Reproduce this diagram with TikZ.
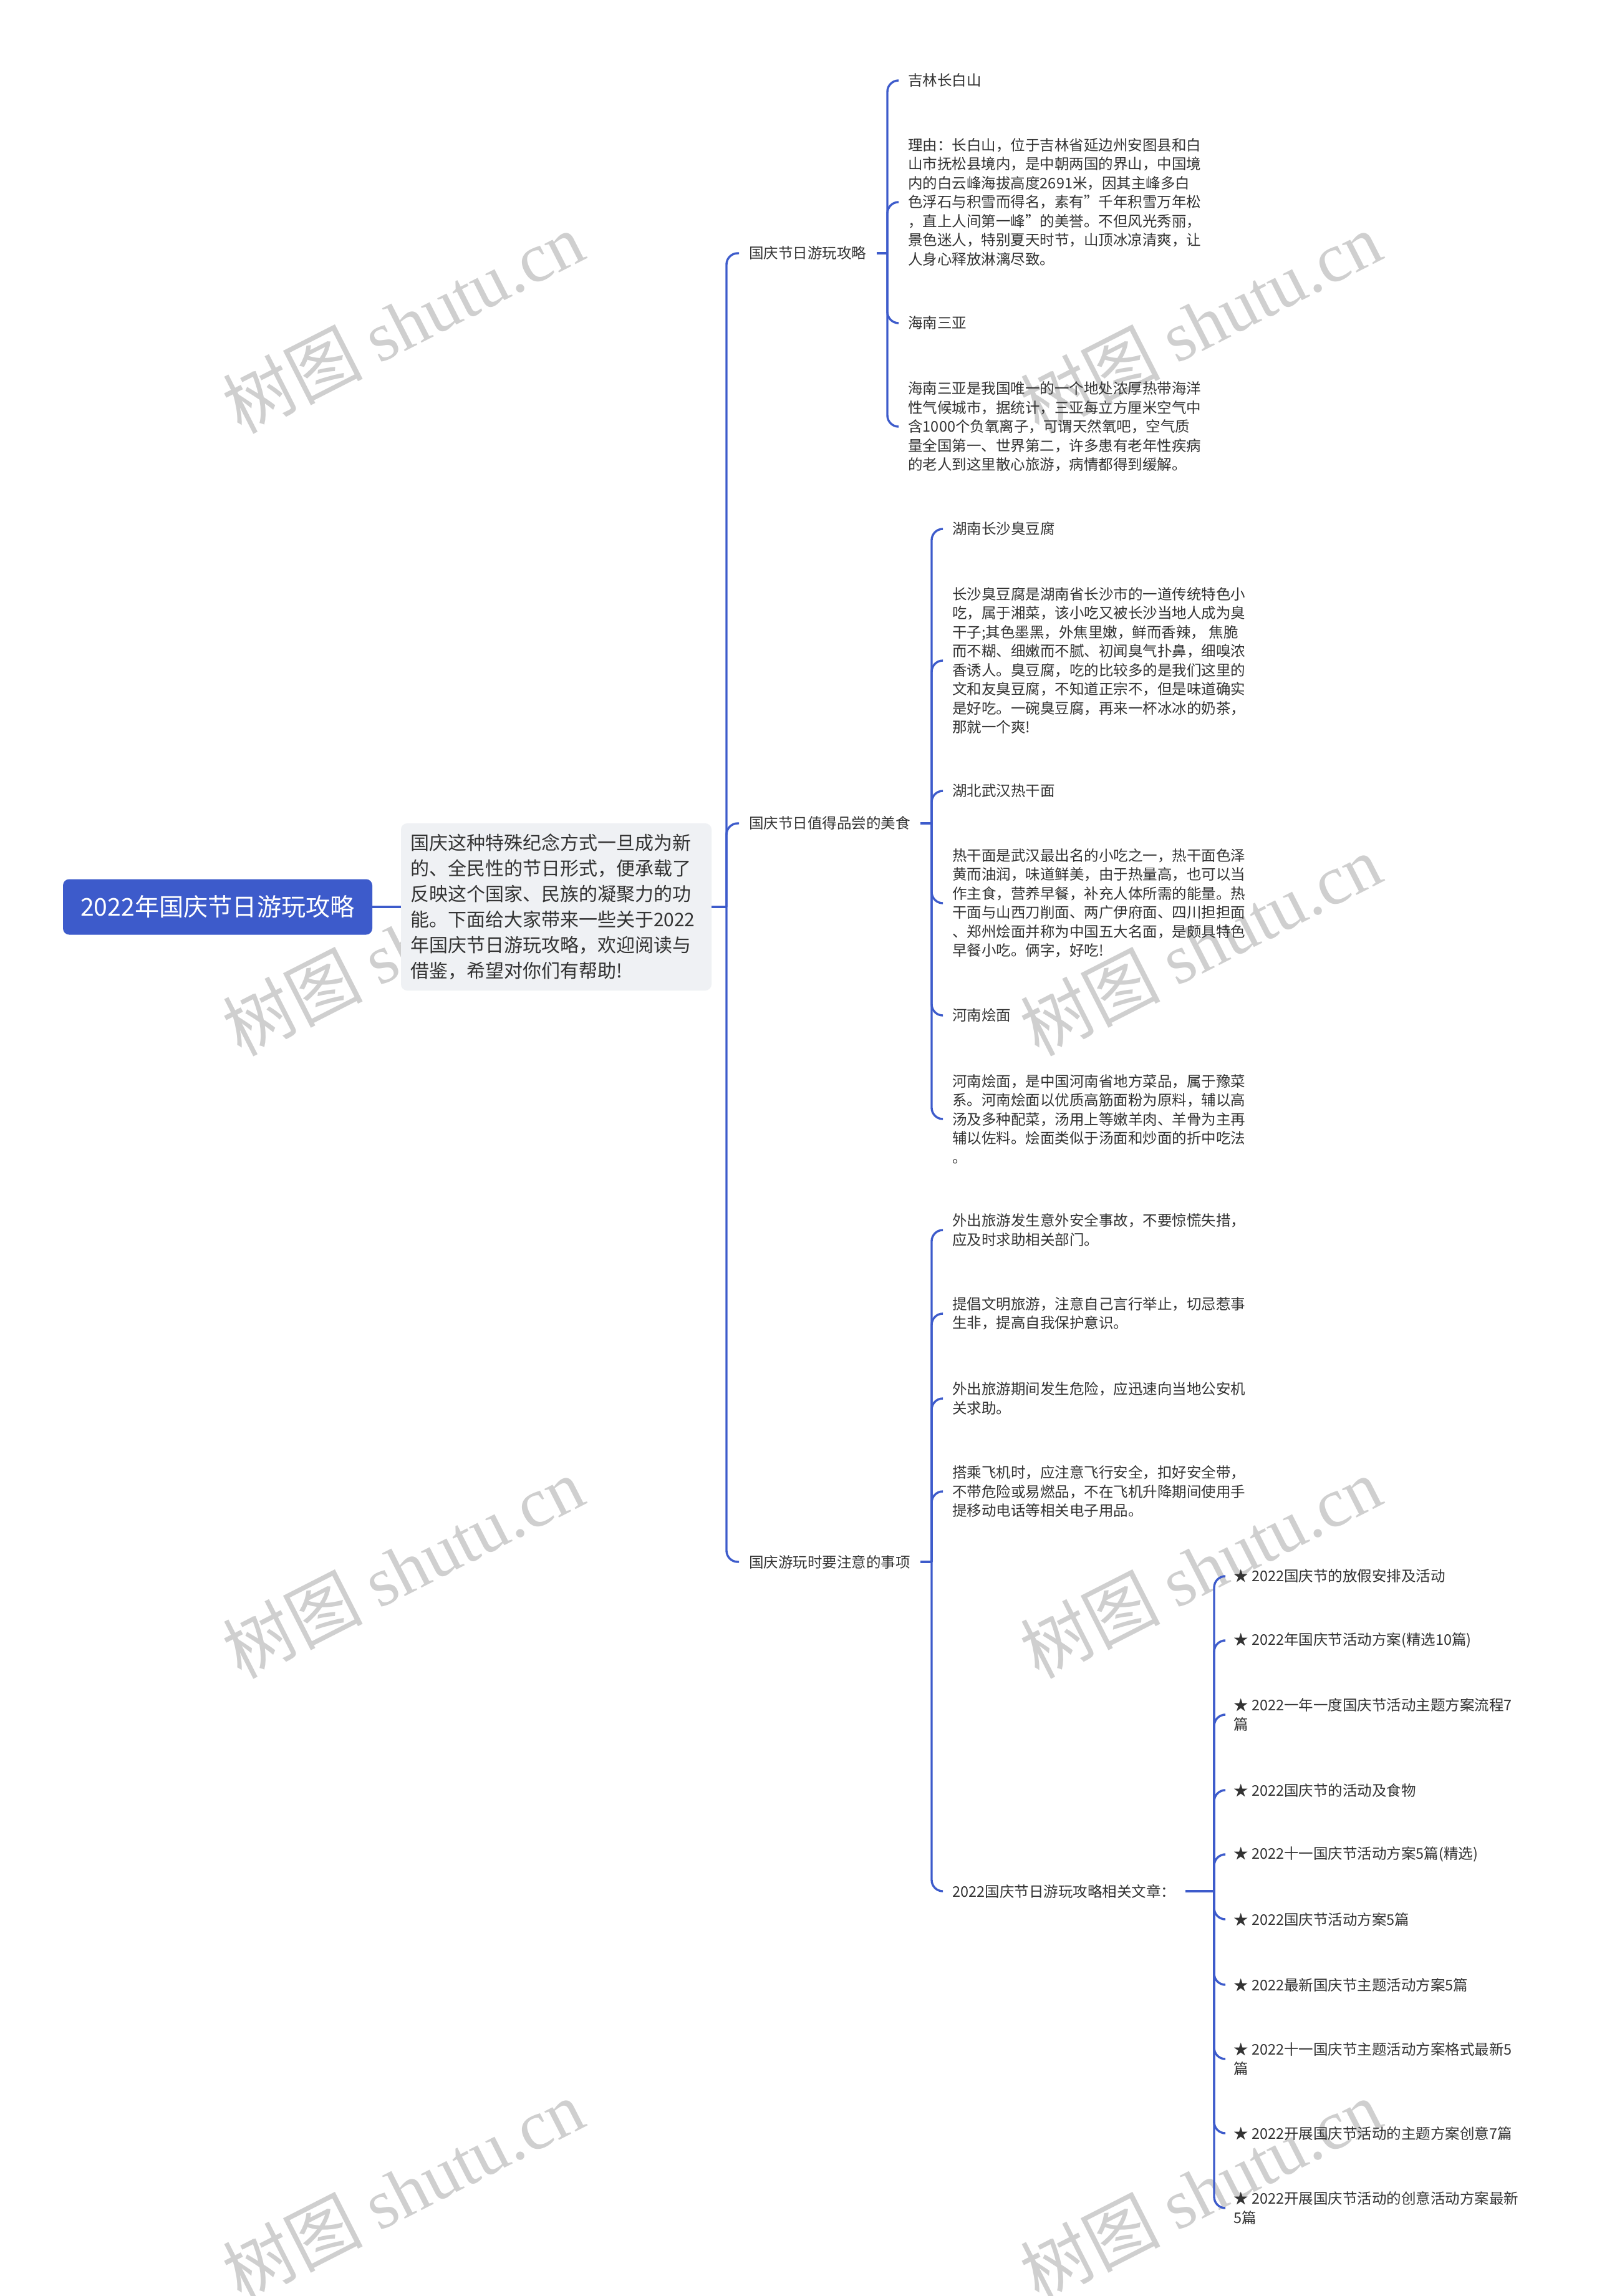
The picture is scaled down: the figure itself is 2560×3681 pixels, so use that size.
\documentclass[tikz,border=0pt]{standalone}
\usepackage{fontspec}
\setmainfont{Noto Sans CJK SC}
\newfontfamily\wmlatin{Liberation Serif}
\definecolor{mapblue}{HTML}{3D5BCB}
\definecolor{notebg}{HTML}{EFF1F4}
\definecolor{inkgray}{HTML}{333333}

\begin{document}
\begin{tikzpicture}[x=0.5pt,y=-0.5pt,
    rootbox/.style={fill=mapblue,text=white,rounded corners=5pt,minimum width=248pt,minimum height=44.5pt,inner sep=0pt,font=\fontsize{19.6}{23}\selectfont},
    notebox/.style={fill=notebg,text=inkgray,rounded corners=5pt,text width=234pt,align=left,inner xsep=7.5pt,inner ysep=0pt,minimum height=134pt,font=\fontsize{15}{20.5}\selectfont},
    topic/.style={anchor=west,text=inkgray,align=left,inner xsep=8pt,inner ysep=1pt,font=\fontsize{11.75}{15.25}\selectfont},
    wmark/.style={text=black!19,rotate=27,font=\fontsize{56}{56}\selectfont},
    link/.style={draw=mapblue,line width=1.7pt},
    elbow/.style={rounded corners=9pt,to path={|- (\tikztotarget)}}]

        \useasboundingbox[fill=white] (0,0) rectangle (2560,3681);

        \node[wmark] at (646,517) (w1){树图 {\wmlatin shutu.cn}};
        \node[wmark] at (1925,517) (w2){树图 {\wmlatin shutu.cn}};
        \node[wmark] at (646,1515) (w3){树图 {\wmlatin shutu.cn}};
        \node[wmark] at (1925,1515) (w4){树图 {\wmlatin shutu.cn}};
        \node[wmark] at (646,2513) (w5){树图 {\wmlatin shutu.cn}};
        \node[wmark] at (1925,2513) (w6){树图 {\wmlatin shutu.cn}};
        \node[wmark] at (646,3511) (w7){树图 {\wmlatin shutu.cn}};
        \node[wmark] at (1925,3511) (w8){树图 {\wmlatin shutu.cn}};

        \node[rootbox] at (349,1454) (r){2022年国庆节日游玩攻略};
        \node[notebox] at (892,1454) (d){国庆这种特殊纪念方式一旦成为新\\的、全民性的节日形式，便承载了\\反映这个国家、民族的凝聚力的功\\能。下面给大家带来一些关于2022\\年国庆节日游玩攻略，欢迎阅读与\\借鉴，希望对你们有帮助!};
        \coordinate (j0) at (1165,1454);

        \node[topic] at (1185,406) (b1){国庆节日游玩攻略};
        \node[topic] at (1185,1320) (b2){国庆节日值得品尝的美食};
        \node[topic] at (1185,2504) (b3){国庆游玩时要注意的事项};
        \coordinate (j1) at (1423,406);
        \coordinate (j2) at (1494,1320);
        \coordinate (j3) at (1494,2504);

        \node[topic] at (1440,129) (c11){吉林长白山};
        \node[topic] at (1440,324) (c12){理由：长白山，位于吉林省延边州安图县和白\\山市抚松县境内，是中朝两国的界山，中国境\\内的白云峰海拔高度2691米，因其主峰多白\\色浮石与积雪而得名，素有"千年积雪万年松\\，直上人间第一峰"的美誉。不但风光秀丽，\\景色迷人，特别夏天时节，山顶冰凉清爽，让\\人身心释放淋漓尽致。};
        \node[topic] at (1440,518) (c13){海南三亚};
        \node[topic] at (1440,684) (c14){海南三亚是我国唯一的一个地处浓厚热带海洋\\性气候城市，据统计，三亚每立方厘米空气中\\含1000个负氧离子，可谓天然氧吧，空气质\\量全国第一、世界第二，许多患有老年性疾病\\的老人到这里散心旅游，病情都得到缓解。};

        \node[topic] at (1511,848) (c21){湖南长沙臭豆腐};
        \node[topic] at (1511,1059) (c22){长沙臭豆腐是湖南省长沙市的一道传统特色小\\吃，属于湘菜，该小吃又被长沙当地人成为臭\\干子;其色墨黑，外焦里嫩，鲜而香辣， 焦脆\\而不糊、细嫩而不腻、初闻臭气扑鼻，细嗅浓\\香诱人。臭豆腐，吃的比较多的是我们这里的\\文和友臭豆腐，不知道正宗不，但是味道确实\\是好吃。一碗臭豆腐，再来一杯冰冰的奶茶，\\那就一个爽!};
        \node[topic] at (1511,1268) (c23){湖北武汉热干面};
        \node[topic] at (1511,1448) (c24){热干面是武汉最出名的小吃之一，热干面色泽\\黄而油润，味道鲜美，由于热量高，也可以当\\作主食，营养早餐，补充人体所需的能量。热\\干面与山西刀削面、两广伊府面、四川担担面\\、郑州烩面并称为中国五大名面，是颇具特色\\早餐小吃。俩字，好吃!};
        \node[topic] at (1511,1628) (c25){河南烩面};
        \node[topic] at (1511,1794) (c26){河南烩面，是中国河南省地方菜品，属于豫菜\\系。河南烩面以优质高筋面粉为原料，辅以高\\汤及多种配菜，汤用上等嫩羊肉、羊骨为主再\\辅以佐料。烩面类似于汤面和炒面的折中吃法\\。};

        \node[topic] at (1511,1972) (c31){外出旅游发生意外安全事故，不要惊慌失措，\\应及时求助相关部门。};
        \node[topic] at (1511,2106) (c32){提倡文明旅游，注意自己言行举止，切忌惹事\\生非，提高自我保护意识。};
        \node[topic] at (1511,2242) (c33){外出旅游期间发生危险，应迅速向当地公安机\\关求助。};
        \node[topic] at (1511,2391) (c34){搭乘飞机时，应注意飞行安全，扣好安全带，\\不带危险或易燃品，不在飞机升降期间使用手\\提移动电话等相关电子用品。};
        \node[topic] at (1511,3032) (c35){2022国庆节日游玩攻略相关文章：};
        \coordinate (j4) at (1947,3032);

        \node[topic] at (1962,2527) (s1){★ 2022国庆节的放假安排及活动};
        \node[topic] at (1962,2630) (s2){★ 2022年国庆节活动方案(精选10篇)};
        \node[topic] at (1962,2749) (s3){★ 2022一年一度国庆节活动主题方案流程7\\篇};
        \node[topic] at (1962,2870) (s4){★ 2022国庆节的活动及食物};
        \node[topic] at (1962,2973) (s5){★ 2022十一国庆节活动方案5篇(精选)};
        \node[topic] at (1962,3077) (s6){★ 2022国庆节活动方案5篇};
        \node[topic] at (1962,3182) (s7){★ 2022最新国庆节主题活动方案5篇};
        \node[topic] at (1962,3301) (s8){★ 2022十一国庆节主题活动方案格式最新5\\篇};
        \node[topic] at (1962,3420) (s9){★ 2022开展国庆节活动的主题方案创意7篇};
        \node[topic] at (1962,3540) (s10){★ 2022开展国庆节活动的创意活动方案最新\\5篇};

        \draw[link]
        (r) edge (d)
        (d) edge (j0)
        (j0) edge[elbow] (b1)
        (j0) edge[elbow] (b2)
        (j0) edge[elbow] (b3)
        (b1) edge (j1)
        (b2) edge (j2)
        (b3) edge (j3)
        (j1) edge[elbow] (c11)
        (j1) edge[elbow] (c12)
        (j1) edge[elbow] (c13)
        (j1) edge[elbow] (c14)
        (j2) edge[elbow] (c21)
        (j2) edge[elbow] (c22)
        (j2) edge[elbow] (c23)
        (j2) edge[elbow] (c24)
        (j2) edge[elbow] (c25)
        (j2) edge[elbow] (c26)
        (j3) edge[elbow] (c31)
        (j3) edge[elbow] (c32)
        (j3) edge[elbow] (c33)
        (j3) edge[elbow] (c34)
        (j3) edge[elbow] (c35)
        (c35) edge (j4)
        (j4) edge[elbow] (s1)
        (j4) edge[elbow] (s2)
        (j4) edge[elbow] (s3)
        (j4) edge[elbow] (s4)
        (j4) edge[elbow] (s5)
        (j4) edge[elbow] (s6)
        (j4) edge[elbow] (s7)
        (j4) edge[elbow] (s8)
        (j4) edge[elbow] (s9)
        (j4) edge[elbow] (s10);
\end{tikzpicture}
\end{document}
